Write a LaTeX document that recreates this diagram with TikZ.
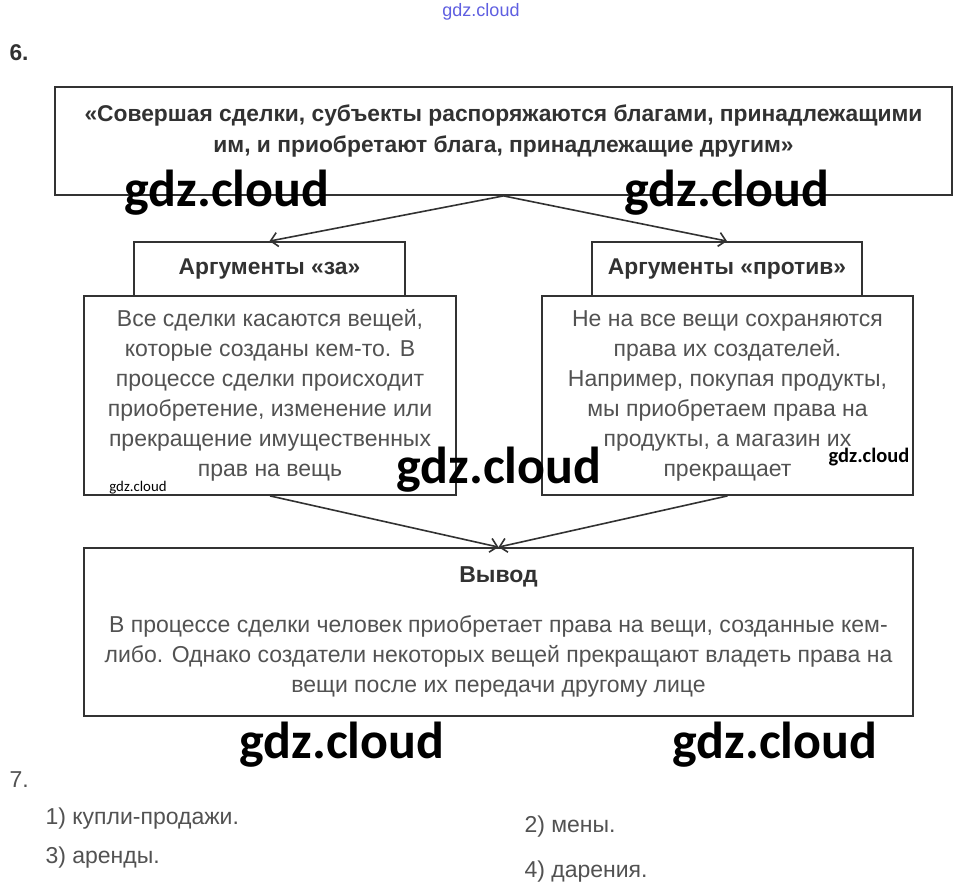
\documentclass[tikz,border=0pt]{standalone}
\usepackage{fontspec}
\setmainfont{Liberation Sans}
\newfontfamily\wmfont{Carlito}
\usetikzlibrary{arrows.meta, positioning}
\definecolor{Chernila} {RGB}{82, 82, 82}
\definecolor{Ramka}    {RGB}{50, 50, 50}
\definecolor{Zagolovok}{RGB}{50, 50, 50}
\definecolor{SiniyZnak}{RGB}{95, 95, 225}

\begin{document}
\begin{tikzpicture}[x=1pt,y=-1pt,
    box/.style={draw=Ramka,line width=1.8pt,fill=white,inner sep=0pt},
    body/.style={text=Chernila,align=center,font=\fontsize{23}{30}\selectfont},
    head/.style={text=Zagolovok,font=\bfseries\fontsize{22.8}{31}\selectfont},
    wm/.style={font=\wmfont\bfseries\fontsize{52}{52}\selectfont,text=black,inner sep=0pt},
    link/.style={-{Straight Barb[length=7pt,width=14pt]},line width=1.6pt,draw=Ramka}]
      \useasboundingbox[fill=white] (0,0) rectangle (961,894);
      % верх
      \node[text=SiniyZnak,font=\fontsize{18}{18}\selectfont] (wmtop) at (481,12) {gdz.cloud};
      \node[head,anchor=west] (n6) at (6,53) {6.};
      \node[box,minimum width=897pt,minimum height=108pt] (quote) at (503.5,141) {};
      \node[head,align=center] (quotetxt) at (503.5,131.5) {«Совершая сделки, субъекты распоряжаются благами, принадлежащими\\им, и приобретают блага, принадлежащие другим»};
      % аргументы
      \node[box,head,minimum width=271pt,minimum height=54pt] (zahead) at (269.5,269) {Аргументы «за»};
      \node[box,body,minimum width=372pt,minimum height=199pt] (zabody) at (270,395.5) {Все сделки касаются вещей,\\которые созданы кем-то. В\\процессе сделки происходит\\приобретение, изменение или\\прекращение имущественных\\прав на вещь};
      \node[box,head,minimum width=270pt,minimum height=54pt] (protivhead) at (727,269) {Аргументы «против»};
      \node[box,body,minimum width=371pt,minimum height=199pt] (protivbody) at (727.5,395.5) {Не на все вещи сохраняются\\права их создателей.\\Например, покупая продукты,\\мы приобретаем права на\\продукты, а магазин их\\прекращает};
      % вывод
      \node[box,body,minimum width=829pt,minimum height=168pt] (vyvod) at (498.5,632) {{\bfseries\color{Zagolovok}Вывод}\\[20pt]В процессе сделки человек приобретает права на вещи, созданные кем-\\либо. Однако создатели некоторых вещей прекращают владеть права на\\вещи после их передачи другому лице};
      \draw[link] (quote.south) -- (zahead.north);
      \draw[link] (quote.south) -- (protivhead.north);
      \draw[link] (zabody.south) -- (vyvod.north);
      \draw[link] (protivbody.south) -- (vyvod.north);
      % задание 7
      \node[body,anchor=west] (n7) at (6,780) {7.};
      \node[body,anchor=west] (otv1) at (42,819) {1) купли-продажи.};
      \node[body,anchor=west] (otv3) at (42,858) {3) аренды.};
      \node[body,anchor=west] (otv2) at (521,827) {2) мены.};
      \node[body,anchor=west] (otv4) at (521,872) {4) дарения.};
      % знаки
      \node[wm] (wm1) at (227,193) {gdz.cloud};
      \node[wm] (wm2) at (727,193) {gdz.cloud};
      \node[wm] (wm3) at (499,470) {gdz.cloud};
      \node[wm] (wm4) at (342,745) {gdz.cloud};
      \node[wm] (wm5) at (775,745) {gdz.cloud};
      \node[wm,font=\wmfont\fontsize{14.8}{14.8}\selectfont] (wm6) at (138,488) {gdz.cloud};
      \node[wm,font=\wmfont\bfseries\fontsize{20.5}{20.5}\selectfont] (wm7) at (869,457) {gdz.cloud};
    \end{tikzpicture}
\end{document}
